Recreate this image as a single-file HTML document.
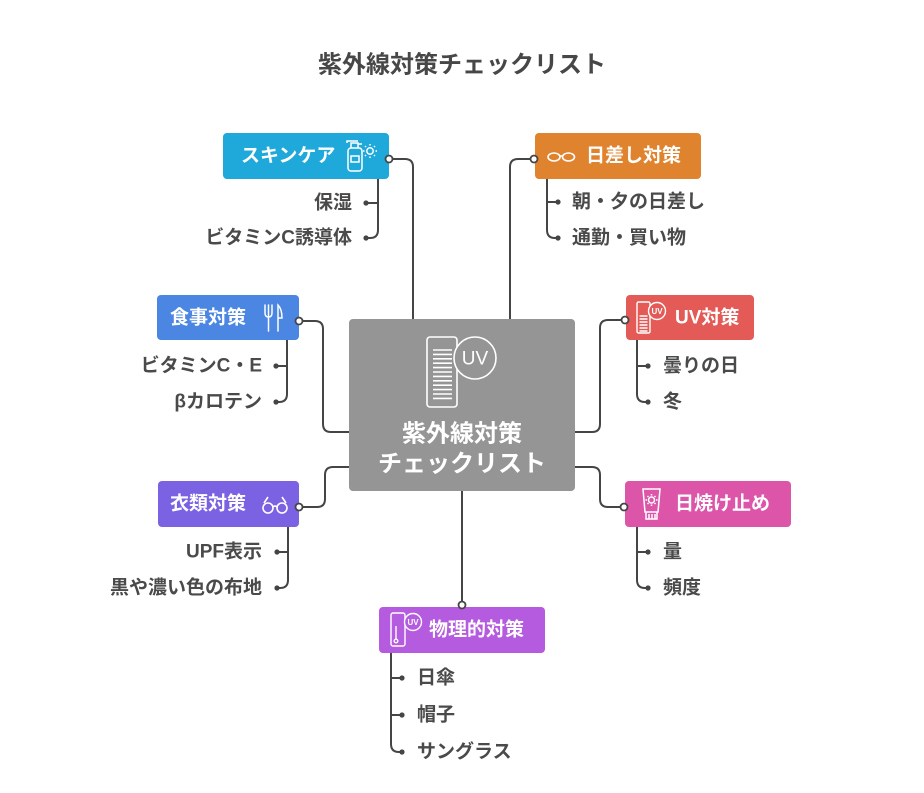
<!DOCTYPE html>
<html><head><meta charset="utf-8"><style>
html,body{margin:0;padding:0;background:#fff;}
svg{display:block;}
text{font-family:"Liberation Sans","Noto Sans CJK JP",sans-serif;font-weight:bold;}
</style></head><body>
<svg width="924" height="793" viewBox="0 0 924 793" xmlns="http://www.w3.org/2000/svg">
<text x="462" y="65" text-anchor="middle" dominant-baseline="central" font-size="24" fill="#474747">紫外線対策チェックリスト</text>

<!-- main connectors -->
<g fill="none" stroke="#454545" stroke-width="2">
<path d="M389,159 H405 Q413,159 413,167 V319"/>
<path d="M534,159 H518 Q510,159 510,167 V319"/>
<path d="M299,321 H315 Q323,321 323,329 V424 Q323,432 331,432 H349"/>
<path d="M625,320 H608 Q600,320 600,328 V424 Q600,432 592,432 H575"/>
<path d="M299,507 H317 Q325,507 325,499 V475 Q325,467 333,467 H349"/>
<path d="M575,467 H592 Q600,467 600,475 V499 Q600,507 608,507 H624"/>
<path d="M462,491 V603"/>
<!-- brackets -->
<path d="M378,179 V230 Q378,238 370,238 H366 M378,203 H366"/>
<path d="M547,179 V230 Q547,238 555,238 H558 M547,202 H558"/>
<path d="M287,340 V394 Q287,402 279,402 H276 M287,366 H276"/>
<path d="M637,340 V394 Q637,402 645,402 H648 M637,366 H648"/>
<path d="M288,527 V580 Q288,588 280,588 H277 M288,552 H277"/>
<path d="M637,527 V580 Q637,588 645,588 H648 M637,552 H648"/>
<path d="M391,653 V744 Q391,752 399,752 H402 M391,678 H402 M391,715 H402"/>
</g>
<g fill="#454545">
<circle cx="366" cy="203" r="2.6"/><circle cx="366" cy="238" r="2.6"/>
<circle cx="558" cy="202" r="2.6"/><circle cx="558" cy="238" r="2.6"/>
<circle cx="276" cy="366" r="2.6"/><circle cx="276" cy="402" r="2.6"/>
<circle cx="648" cy="366" r="2.6"/><circle cx="648" cy="402" r="2.6"/>
<circle cx="277" cy="552" r="2.6"/><circle cx="277" cy="588" r="2.6"/>
<circle cx="648" cy="552" r="2.6"/><circle cx="648" cy="588" r="2.6"/>
<circle cx="402" cy="678" r="2.6"/><circle cx="402" cy="715" r="2.6"/><circle cx="402" cy="752" r="2.6"/>
</g>

<!-- center -->
<rect x="349" y="319" width="226" height="172" rx="4" fill="#959595"/>
<g fill="none" stroke="#fff" stroke-width="1.6">
<rect x="427" y="337" width="30" height="70" rx="3"/>
<path d="M433,350 H452 M433,354.4 H452 M433,358.8 H452 M433,363.2 H452 M433,367.6 H452 M433,372 H452 M433,376.4 H452 M433,380.8 H452 M433,385.2 H452 M433,389.6 H452 M433,394 H452 M433,398.4 H452"/>
<circle cx="475" cy="358" r="21" fill="#959595"/>
</g>
<text x="475" y="359" text-anchor="middle" dominant-baseline="central" font-size="19" fill="#fff" style="font-weight:normal">UV</text>
<text x="462" y="434" text-anchor="middle" dominant-baseline="central" font-size="24" fill="#fff">紫外線対策</text>
<text x="462" y="464" text-anchor="middle" dominant-baseline="central" font-size="24" fill="#fff">チェックリスト</text>

<!-- skin care -->
<rect x="223" y="133" width="166" height="46" rx="4" fill="#1FA8DA"/>
<text x="241" y="156" dominant-baseline="central" font-size="19" fill="#fff">スキンケア</text>
<g fill="none" stroke="#fff" stroke-width="1.5">
<path d="M351,148 V143 H358 V148 M358,144 H362 M347,143 V141 H358"/>
<rect x="348" y="148" width="14" height="23" rx="3"/>
<rect x="351" y="156" width="8" height="6"/>
<circle cx="370" cy="151" r="3.2"/>
<path d="M370,144 V145.5 M370,156.5 V158 M363,151 H364.5 M375.5,151 H377 M365,146 L366,147 M374,155 L375,156 M375,146 L374,147 M365,156 L366,155"/>
</g>
<circle cx="389" cy="159" r="3.5" fill="#fff" stroke="#454545" stroke-width="1.8"/>
<text x="352" y="203" text-anchor="end" dominant-baseline="central" font-size="19" fill="#4a4a4a">保湿</text>
<text x="352" y="238" text-anchor="end" dominant-baseline="central" font-size="19" fill="#4a4a4a">ビタミンC誘導体</text>

<!-- sun -->
<rect x="535" y="133" width="166" height="46" rx="4" fill="#E0832F"/>
<g fill="none" stroke="#fff" stroke-width="1.6">
<ellipse cx="554" cy="157" rx="6" ry="4"/>
<ellipse cx="568.5" cy="157" rx="6" ry="4"/>
<path d="M560,156 H562.5"/>
</g>
<text x="586" y="156" dominant-baseline="central" font-size="19" fill="#fff">日差し対策</text>
<circle cx="534" cy="159" r="3.5" fill="#fff" stroke="#454545" stroke-width="1.8"/>
<text x="572" y="202" dominant-baseline="central" font-size="19" fill="#4a4a4a">朝・夕の日差し</text>
<text x="572" y="238" dominant-baseline="central" font-size="19" fill="#4a4a4a">通勤・買い物</text>

<!-- food -->
<rect x="157" y="295" width="142" height="45" rx="4" fill="#4A86E2"/>
<text x="170" y="318" dominant-baseline="central" font-size="19" fill="#fff">食事対策</text>
<g fill="none" stroke="#fff" stroke-width="1.5" stroke-linecap="round">
<path d="M265,305 V313 Q265,317 268.5,317 Q272,317 272,313 V305 M268.5,305 V331"/>
<path d="M278,331 V305 Q282,309 282,318 H278"/>
</g>
<circle cx="299" cy="321" r="3.5" fill="#fff" stroke="#454545" stroke-width="1.8"/>
<text x="262" y="366" text-anchor="end" dominant-baseline="central" font-size="19" fill="#4a4a4a">ビタミンC・E</text>
<text x="262" y="402" text-anchor="end" dominant-baseline="central" font-size="19" fill="#4a4a4a">βカロテン</text>

<!-- UV -->
<rect x="626" y="295" width="128" height="45" rx="4" fill="#E35A56"/>
<g fill="none" stroke="#fff" stroke-width="1.4">
<rect x="637" y="302" width="13" height="31" rx="1.5"/>
<path d="M639.5,316 H647.5 M639.5,319 H647.5 M639.5,322 H647.5 M639.5,325 H647.5 M639.5,328 H647.5 M639.5,331 H647.5"/>
<circle cx="657" cy="311" r="8.5" fill="#E35A56"/>
</g>
<text x="657" y="311.5" text-anchor="middle" dominant-baseline="central" font-size="8" fill="#fff">UV</text>
<text x="675" y="318" dominant-baseline="central" font-size="19" fill="#fff">UV対策</text>
<circle cx="625" cy="320" r="3.5" fill="#fff" stroke="#454545" stroke-width="1.8"/>
<text x="663" y="366" dominant-baseline="central" font-size="19" fill="#4a4a4a">曇りの日</text>
<text x="663" y="402" dominant-baseline="central" font-size="19" fill="#4a4a4a">冬</text>

<!-- clothing -->
<rect x="158" y="481" width="141" height="46" rx="4" fill="#7B62E2"/>
<text x="170" y="504" dominant-baseline="central" font-size="19" fill="#fff">衣類対策</text>
<g fill="none" stroke="#fff" stroke-width="1.6">
<circle cx="268" cy="508" r="5"/>
<circle cx="282" cy="508" r="5"/>
<path d="M273,507 Q275,505 277,507 M264,503 L268,497 M286,503 L282,497"/>
</g>
<circle cx="299" cy="507" r="3.5" fill="#fff" stroke="#454545" stroke-width="1.8"/>
<text x="262" y="552" text-anchor="end" dominant-baseline="central" font-size="19" fill="#4a4a4a">UPF表示</text>
<text x="262" y="588" text-anchor="end" dominant-baseline="central" font-size="19" fill="#4a4a4a">黒や濃い色の布地</text>

<!-- sunscreen -->
<rect x="625" y="481" width="166" height="46" rx="4" fill="#DC55A8"/>
<g fill="none" stroke="#fff" stroke-width="1.5">
<path d="M643,489 H660 L658,512 H645 Z"/>
<path d="M646,512 V519 H657 V512 M649,514 V519 M652,514 V519 M655,514 V519"/>
<circle cx="651.5" cy="500" r="3"/>
<path d="M651.5,494 V495.5 M651.5,504.5 V506 M645.5,500 H647 M656,500 H657.5 M647.5,496 L648.5,497 M654.5,503 L655.5,504 M655.5,496 L654.5,497 M647.5,504 L648.5,503"/>
</g>
<text x="675" y="504" dominant-baseline="central" font-size="19" fill="#fff">日焼け止め</text>
<circle cx="624" cy="507" r="3.5" fill="#fff" stroke="#454545" stroke-width="1.8"/>
<text x="663" y="552" dominant-baseline="central" font-size="19" fill="#4a4a4a">量</text>
<text x="663" y="588" dominant-baseline="central" font-size="19" fill="#4a4a4a">頻度</text>

<!-- physical -->
<rect x="379" y="607" width="166" height="46" rx="4" fill="#B55BDF"/>
<g fill="none" stroke="#fff" stroke-width="1.4">
<rect x="391" y="613" width="14" height="33" rx="2"/>
<path d="M396,626 V639"/>
<circle cx="396" cy="641" r="1.8"/>
<circle cx="413" cy="622" r="8.5" fill="#B55BDF"/>
</g>
<text x="413" y="622.5" text-anchor="middle" dominant-baseline="central" font-size="8" fill="#fff">UV</text>
<text x="429" y="630" dominant-baseline="central" font-size="19" fill="#fff">物理的対策</text>
<circle cx="462" cy="605" r="3.5" fill="#fff" stroke="#454545" stroke-width="1.8"/>
<text x="417" y="678" dominant-baseline="central" font-size="19" fill="#4a4a4a">日傘</text>
<text x="417" y="715" dominant-baseline="central" font-size="19" fill="#4a4a4a">帽子</text>
<text x="417" y="752" dominant-baseline="central" font-size="19" fill="#4a4a4a">サングラス</text>
</svg>
</body></html>
